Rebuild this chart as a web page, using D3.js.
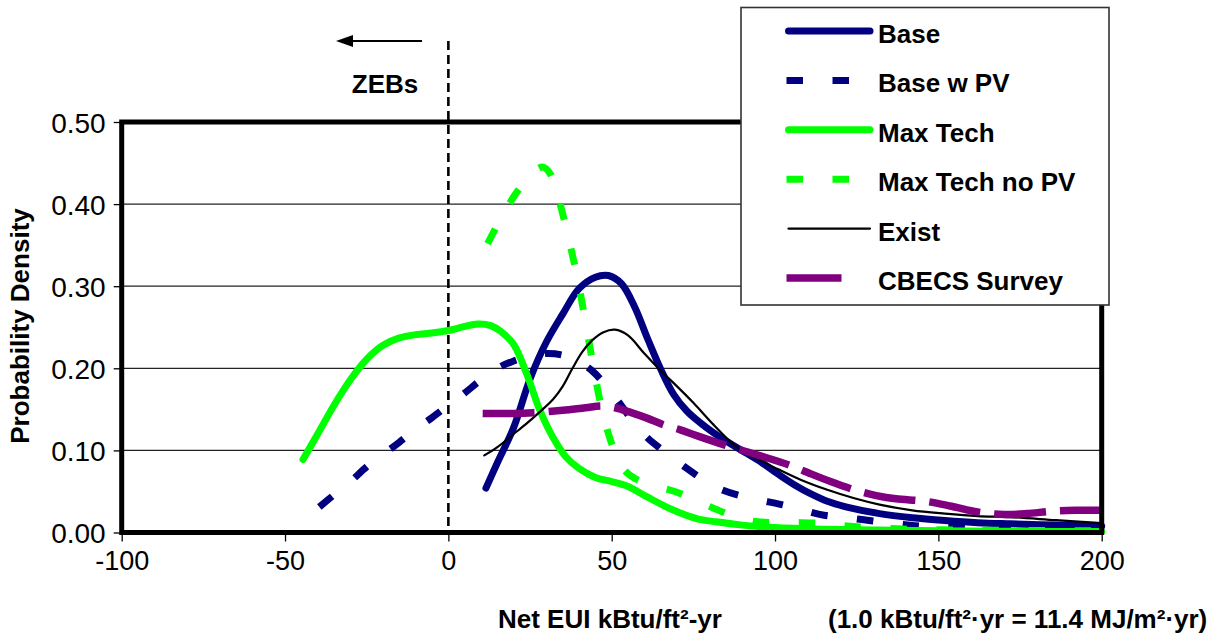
<!DOCTYPE html>
<html>
<head>
<meta charset="utf-8">
<script src="https://cdn.jsdelivr.net/npm/d3@7"></script>
<style>
  html, body { margin: 0; padding: 0; background: #fff; }
  svg { display: block; }
  text { font-family: "Liberation Sans", Arial, sans-serif; fill: #000; }
</style>
</head>
<body>
<svg id="chart" width="1220" height="637"></svg>
<script>
// ---------------- DATA ----------------
const xTicks = [-100, -50, 0, 50, 100, 150, 200];
const yTicks = [0.0, 0.1, 0.2, 0.3, 0.4, 0.5];
const seriesNames = ["Base", "Base w PV", "Max Tech", "Max Tech no PV", "Exist", "CBECS Survey"];

// [Net EUI, probability density]
const base = [
  [11.5,0.054],[15,0.085],[20,0.128],[25,0.187],[30,0.232],[35,0.266],[40,0.297],[45,0.311],
  [49,0.313],[53,0.303],[57,0.275],[61,0.236],[65,0.199],[69,0.168],[73,0.148],[77,0.134],
  [81,0.122],[86,0.109],[91,0.097],[96,0.085],[101,0.071],[106,0.058],[111,0.047],[116,0.038],
  [122,0.031],[132,0.023],[142,0.018],[152,0.0146],[162,0.012],[172,0.0106],[186,0.009],[200,0.0077]
];
const baseWPV = [
  [-39.5,0.031],[-35,0.046],[-30,0.062],[-25,0.08],[-20,0.095],[-15,0.11],[-10,0.126],[-5,0.14],
  [0,0.155],[5,0.17],[10,0.186],[15,0.2],[20,0.209],[25,0.215],[30,0.218],[35,0.216],[40,0.208],
  [44,0.197],[48,0.18],[52,0.16],[56,0.138],[61,0.115],[66,0.099],[73,0.078],[82,0.055],[90,0.044],
  [96,0.039],[102,0.034],[108,0.028],[115,0.021],[122,0.018],[130,0.014],[137,0.0106],[142,0.0085],
  [150,0.007],[170,0.005],[200,0.004]
];
const maxTech = [
  [-44.5,0.089],[-40,0.12],[-35,0.155],[-30,0.186],[-25,0.211],[-20,0.228],[-15,0.237],[-10,0.241],
  [-5,0.243],[0,0.246],[5,0.251],[9,0.254],[13,0.252],[16,0.245],[20,0.229],[24,0.193],[28,0.149],
  [32,0.116],[36,0.092],[40,0.078],[45,0.067],[50,0.062],[55,0.056],[61,0.043],[69,0.027],[76,0.017],
  [82,0.013],[90,0.009],[100,0.006],[115,0.004],[130,0.003],[150,0.002],[175,0.0015],[200,0.0012]
];
const maxTechNoPV = [
  [12,0.352],[16,0.382],[20,0.409],[24,0.43],[27,0.442],[29,0.445],[31,0.438],[33,0.417],[35,0.388],
  [37,0.355],[39.5,0.31],[42,0.256],[44.5,0.2],[47,0.15],[50,0.108],[53,0.08],[57,0.066],[63,0.057],
  [70,0.049],[78,0.035],[86,0.022],[93,0.014],[100,0.012],[108,0.012],[115,0.011],[122,0.008],
  [130,0.006],[140,0.004],[160,0.003],[200,0.002]
];
const exist = [
  [11,0.094],[15,0.104],[20,0.12],[24,0.133],[28,0.147],[32,0.162],[35,0.178],[38,0.2],[41,0.22],
  [44,0.234],[47.5,0.244],[51,0.247],[55,0.24],[60,0.218],[65,0.197],[70,0.178],[75,0.158],
  [81,0.132],[86,0.112],[90,0.099],[95,0.089],[101,0.077],[108,0.064],[116,0.052],[124,0.042],
  [132,0.034],[142,0.027],[152,0.023],[162,0.02],[172,0.0187],[186,0.015],[200,0.0114]
];
const cbecs = [
  [10.5,0.145],[20,0.145],[26,0.146],[35,0.149],[42,0.152],[47,0.154],[51,0.152],[56,0.146],
  [61,0.139],[66,0.131],[71,0.125],[76,0.118],[85,0.106],[95,0.094],[104.5,0.082],[110,0.073],
  [117,0.062],[125,0.051],[131,0.045],[137,0.041],[146,0.038],[154,0.032],[162,0.025],[170,0.022],
  [177,0.023],[185,0.026],[192,0.027],[200,0.027]
];

// ---------------- STYLES ----------------
const styles = [
  { name: seriesNames[0], data: base,        color: "#000080", width: 7,   dash: null,        cap: "round" },
  { name: seriesNames[1], data: baseWPV,     color: "#000080", width: 7,   dash: "16.5,29.5", cap: "butt" },
  { name: seriesNames[2], data: maxTech,     color: "#00ff00", width: 7,   dash: null,        cap: "round" },
  { name: seriesNames[3], data: maxTechNoPV, color: "#00ff00", width: 7,   dash: "16.5,29.5", cap: "butt" },
  { name: seriesNames[4], data: exist,       color: "#000000", width: 2.2, dash: null,        cap: "round" },
  { name: seriesNames[5], data: cbecs,       color: "#800080", width: 7.5, dash: "52,14",     cap: "butt" }
];

const svg = d3.select("#chart");
const x = d3.scaleLinear().domain([-100, 200]).range([121.7, 1101.7]);
const y = d3.scaleLinear().domain([0, 0.5]).range([532.5, 122]);

// gridlines
svg.append("g").selectAll("line").data(yTicks.filter(v => v > 0 && v < 0.5)).join("line")
  .attr("x1", x(-100)).attr("x2", x(200))
  .attr("y1", d => y(d)).attr("y2", d => y(d))
  .attr("stroke", "#222").attr("stroke-width", 1.3);

// axes
const yAxis = svg.append("g").attr("transform", `translate(${x(-100)},0)`)
  .call(d3.axisLeft(y).tickValues(yTicks).tickFormat(d3.format(".2f")).tickSize(8).tickPadding(8));
const xAxis = svg.append("g").attr("transform", `translate(0,${y(0)})`)
  .call(d3.axisBottom(x).tickValues(xTicks).tickFormat(d3.format("d")).tickSize(9).tickPadding(22));
[yAxis, xAxis].forEach(a => {
  a.select(".domain").remove();
  a.selectAll(".tick line").attr("stroke", "#000").attr("stroke-width", 1.3);
  a.selectAll(".tick text").attr("fill", "#000");
});
yAxis.selectAll(".tick text").style("font-size", "28px").attr("dy", "0.36em");
xAxis.selectAll(".tick text").style("font-size", "27px").attr("dy", "0.25em")
  .text(d => d < 0 ? "-" + Math.abs(d) : d);

// zero line (ZEB boundary)
svg.append("line")
  .attr("x1", x(0)).attr("x2", x(0)).attr("y1", 41).attr("y2", y(0))
  .attr("stroke", "#000").attr("stroke-width", 2.6).attr("stroke-dasharray", "9,5");

// series
const line = d3.line().x(d => x(d[0])).y(d => y(d[1])).curve(d3.curveCatmullRom.alpha(0.5));
svg.append("g").selectAll("path").data(styles).join("path")
  .attr("d", d => line(d.data))
  .attr("fill", "none")
  .attr("stroke", d => d.color)
  .attr("stroke-width", d => d.width)
  .attr("stroke-dasharray", d => d.dash)
  .attr("stroke-linecap", d => d.cap)
  .attr("stroke-linejoin", "round");

// frame
svg.append("path")
  .attr("d", `M${x(-100)},${y(0.5)}H${x(200)}V${y(0)}H${x(-100)}Z`)
  .attr("fill", "none").attr("stroke", "#000").attr("stroke-width", 5);

// ZEB arrow + label
svg.append("line").attr("x1", 350).attr("x2", 422).attr("y1", 41).attr("y2", 41)
  .attr("stroke", "#000").attr("stroke-width", 2.2);
svg.append("path").attr("d", "M336,41 L353,35 L353,47 Z").attr("fill", "#000");
svg.append("text").attr("x", 385).attr("y", 93).attr("text-anchor", "middle")
  .style("font-size", "26px").style("font-weight", "bold").text("ZEBs");

// axis titles
svg.append("text").attr("transform", "translate(29,326) rotate(-90)").attr("text-anchor", "middle")
  .style("font-size", "26px").style("font-weight", "bold").text("Probability Density");
svg.append("text").attr("x", 498).attr("y", 628)
  .style("font-size", "26px").style("font-weight", "bold").text("Net EUI kBtu/ft²-yr");
svg.append("text").attr("x", 828).attr("y", 628)
  .style("font-size", "26px").style("font-weight", "bold").text("(1.0 kBtu/ft²·yr = 11.4 MJ/m²·yr)");

// legend
const lg = svg.append("g");
lg.append("rect").attr("x", 741).attr("y", 7.5).attr("width", 368).attr("height", 297.5)
  .attr("fill", "#fff").attr("stroke", "#333").attr("stroke-width", 1.6);
const rowY = i => 31 + i * 49.4;
const items = lg.selectAll("g.item").data(styles).join("g").attr("class", "item");
items.append("line")
  .attr("x1", d => d.dash ? 786.5 : 788.5)
  .attr("x2", (d, i) => i === 5 ? 841.5 : (d.dash ? 872 : 870))
  .attr("y1", (d, i) => rowY(i)).attr("y2", (d, i) => rowY(i))
  .attr("stroke", d => d.color)
  .attr("stroke-width", d => d.width)
  .attr("stroke-dasharray", (d, i) => i === 5 ? null : d.dash)
  .attr("stroke-linecap", d => d.cap);
items.append("text")
  .attr("x", 878).attr("y", (d, i) => rowY(i) + 12)
  .style("font-size", "26px").style("font-weight", "bold")
  .text(d => d.name);
</script>
</body>
</html>
